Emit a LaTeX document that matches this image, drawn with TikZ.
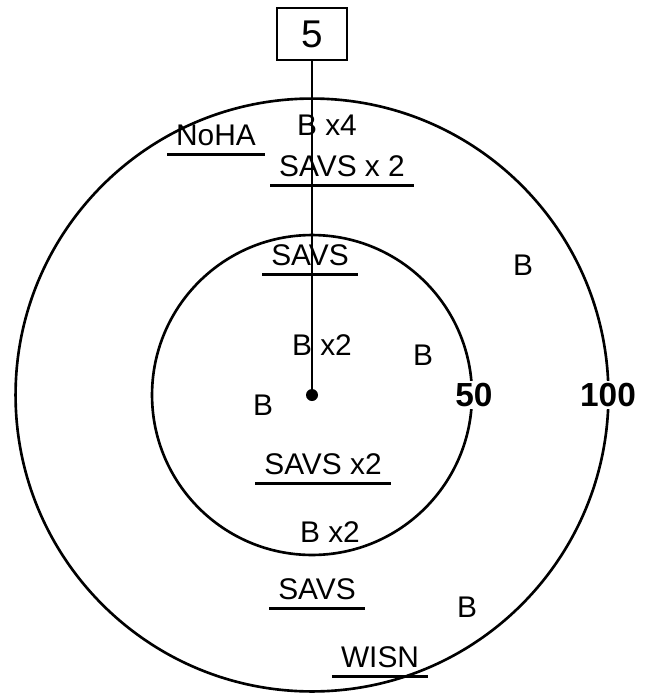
\documentclass[tikz,border=0pt]{standalone}
\usepackage{fontspec}
\setmainfont{Liberation Sans}
\usetikzlibrary{positioning}
\tikzset{
  ring/.style={line width=1.5pt},
  hand/.style={font=\fontsize{17}{17}\selectfont, inner sep=1pt},
  uline/.style={hand, append after command={([yshift=-4pt]\tikzlastnode.south west) edge[line width=1.5pt, shorten <=-4pt, shorten >=-4pt] ([yshift=-4pt]\tikzlastnode.south east)}},
  dist/.style={font=\bfseries\fontsize{19}{19}\selectfont, fill=white, inner sep=1pt},
}
\begin{document}
\begin{tikzpicture}[x=0.02cm, y=-0.02cm]
\useasboundingbox[fill=white] (0,0) rectangle (647,694);
% centre and source
\node[circle, fill, inner sep=0pt, minimum size=12*0.02cm] (c) at (312,395) {};
\node[draw, line width=1.5pt, minimum width=70*0.02cm, minimum height=52*0.02cm, font=\fontsize{22}{22}\selectfont] (s) at (312,34) {5};
% rings
\draw[ring] (c) circle[radius=5.93cm];
\draw[ring] (c) circle[radius=3.2cm];
\draw[line width=1.3pt] (s) -- (c);
\node[dist] (r50) at (474,395) {50};
\node[dist] (r100) at (608,395) {100};
% outer band
\node[uline] (noha) at (216,135) {NoHA};
\node[hand] (b4) at (327,125) {B x4};
\node[uline] (sav2a) at (342,166) {SAVS x 2};
\node[hand] (bne) at (523,265) {B};
\node[uline] (sav1b) at (317,589) {SAVS};
\node[hand] (bse) at (467,607) {B};
\node[uline] (wisn) at (380,657) {WISN};
% inner disc
\node[uline] (sav1a) at (310,255) {SAVS};
\node[hand] (b2a) at (322,345) {B x2};
\node[hand] (be) at (423,355) {B};
\node[hand] (bw) at (263,405) {B};
\node[uline] (sav2b) at (323,464) {SAVS x2};
\node[hand] (b2b) at (330,532) {B x2};
\end{tikzpicture}
\end{document}
